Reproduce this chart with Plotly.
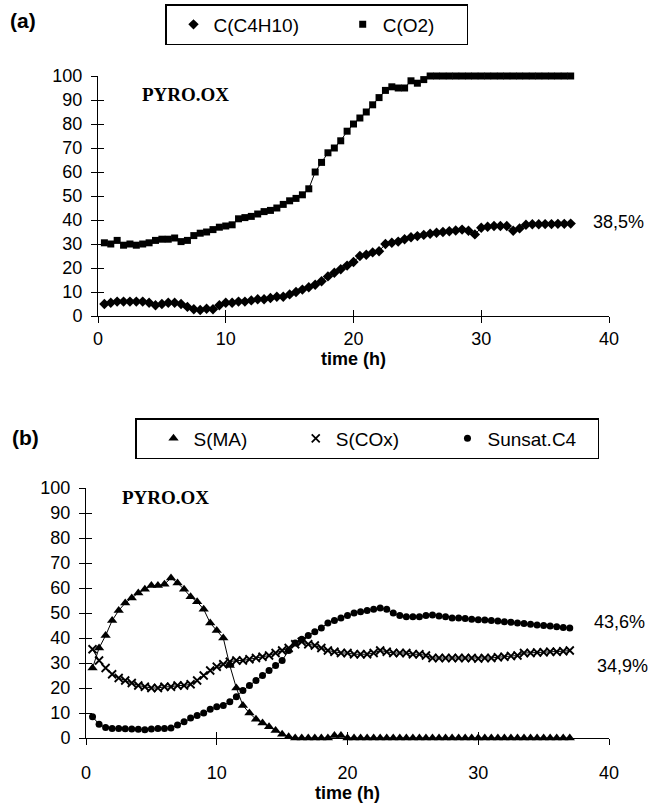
import plotly.graph_objects as go

time_h = [0.5, 1.0, 1.5, 2.0, 2.5, 3.0, 3.5, 4.0, 4.5, 5.0, 5.5, 6.0, 6.5, 7.0, 7.5, 8.0,
          8.5, 9.0, 9.5, 10.0, 10.5, 11.0, 11.5, 12.0, 12.5, 13.0, 13.5, 14.0, 14.5, 15.0,
          15.5, 16.0, 16.5, 17.0, 17.5, 18.0, 18.5, 19.0, 19.5, 20.0, 20.5, 21.0, 21.5,
          22.0, 22.5, 23.0, 23.5, 24.0, 24.5, 25.0, 25.5, 26.0, 26.5, 27.0, 27.5, 28.0,
          28.5, 29.0, 29.5, 30.0, 30.5, 31.0, 31.5, 32.0, 32.5, 33.0, 33.5, 34.0, 34.5,
          35.0, 35.5, 36.0, 36.5, 37.0]

# (a) conversions
c_c4h10 = [5, 5.5, 6, 6, 6, 6, 6, 5.5, 4.5, 5, 5.5, 5.5, 5, 3.8, 2.8, 2.5,
           3, 2.8, 4.5, 5.5, 5.5, 6, 6, 6.5, 7, 7, 7.5, 8, 8, 9,
           10, 11, 12, 13, 14.5, 16.5, 18, 19.5, 21, 22.5, 25, 25.5, 26.5,
           27, 30, 30.5, 31, 32, 32.8, 33.3, 33.8, 34.3, 34.7, 35, 35.3, 35.6,
           36, 35.5, 34, 36.8, 37.2, 37.5, 37.5, 37.5, 35.5, 36.5, 38, 38.2, 38.2,
           38.3, 38.3, 38.4, 38.4, 38.5]
c_o2 = [30.5, 30, 31.5, 29.5, 30, 29.5, 30, 30.5, 31.5, 32, 32, 32.5, 31, 31.5, 33.5, 34.5,
        35, 36, 37, 37.5, 38, 40.5, 41, 41.5, 42.5, 43.5, 44, 45, 46.5, 48,
        49, 50.5, 53, 60, 64, 68, 70, 73, 77, 80, 82.5, 85, 88,
        91, 94, 95.5, 95, 95, 98, 97, 98.5, 100, 100, 100, 100, 100,
        100, 100, 100, 100, 100, 100, 100, 100, 100, 100, 100, 100, 100,
        100, 100, 100, 100, 100]

# (b) selectivities
s_ma = [28, 36, 41, 47, 51, 54, 56, 58, 59.5, 61, 61, 61.5, 64, 62, 59.5, 56.5,
        54.5, 51.5, 46, 43, 40, 29, 20, 13, 10, 7.5, 6, 4.5, 3, 1.5,
        0.5, 0, 0, 0, 0, 0, 0, 1, 1, 0, 0, 0, 0,
        0, 0, 0, 0, 0, 0, 0, 0, 0, 0, 0, 0, 0,
        0, 0, 0, 0, 0, 0, 0, 0, 0, 0, 0, 0, 0,
        0, 0, 0, 0, 0]
s_cox = [35.5, 31, 28, 25.5, 24, 23, 22, 21, 20.5, 20, 20, 20.5, 20.5, 21, 21, 21.5,
         23, 25, 27, 28.5, 29.5, 30.5, 31, 31, 31.5, 32, 32.5, 33, 34, 35,
         36, 37.5, 38.5, 37.5, 37, 36, 35, 34.5, 34, 34, 33.5, 33.5, 33.5,
         34, 35, 34.5, 34, 34, 34, 33.5, 33.5, 33, 32, 32, 32, 32,
         32, 32, 32, 31.8, 32, 32, 32.3, 32.5, 32.8, 33, 34, 34, 34.2,
         34.3, 34.5, 34.5, 34.7, 35]
s_unsat_c4 = [8.5, 5.5, 4.2, 3.8, 3.8, 3.7, 3.6, 3.5, 3.3, 3.6, 3.8, 3.8, 4, 5.2, 6.5, 8,
              9, 10, 11.5, 12.5, 13, 14.5, 16.5, 19, 21, 23, 25, 27, 29, 31,
              35, 38, 39.5, 41, 42.5, 44, 46, 47, 48, 49, 50, 50.5, 51,
              51.5, 52, 51.5, 50, 49, 48.5, 48.5, 48.5, 49, 49.2, 48.8, 48.5, 48,
              48, 47.8, 47.5, 47.3, 47.2, 47, 46.8, 46.5, 46.3, 46, 45.8, 45.5, 45.2,
              45, 44.8, 44.5, 44.2, 44]

x_ticks = [0, 10, 20, 30, 40]
y_ticks = [0, 10, 20, 30, 40, 50, 60, 70, 80, 90, 100]

W, H = 652, 804
SANS = "Liberation Sans, Arial, sans-serif"
SERIF = "Liberation Serif, Times New Roman, serif"
NB = "\u00a0"  # trailing spacing inside the boxed legends

fig = go.Figure()

def add_series(y, name, symbol, size, xa, ya, legend, pad, lw=0):
    fig.add_trace(go.Scatter(x=time_h, y=y, mode="lines", line=dict(color="black", width=1),
                             xaxis=xa, yaxis=ya, showlegend=False, hoverinfo="skip",
                             cliponaxis=False))
    fig.add_trace(go.Scatter(x=time_h, y=y, mode="markers", name=name + NB * pad,
                             marker=dict(symbol=symbol, size=size, color="black",
                                         line=dict(color="black", width=lw)),
                             xaxis=xa, yaxis=ya, legend=legend, cliponaxis=False))

add_series(c_c4h10, "C(C4H10)", "diamond", 8, "x", "y", "legend", 6)
add_series(c_o2, "C(O2)", "square", 7, "x", "y", "legend", 5)
add_series(s_ma, "S(MA)", "triangle-up", 9, "x2", "y2", "legend2", 5)
add_series(s_cox, "S(COx)", "x-thin", 8, "x2", "y2", "legend2", 5, lw=1.8)
add_series(s_unsat_c4, "Sunsat.C4", "circle", 7, "x2", "y2", "legend2", 3)

def px_x(p):
    return p / W

def px_y(p):
    return 1 - p / H

top_x = [px_x(98), px_x(609)]
top_y = [px_y(316), px_y(76)]
bot_x = [px_x(86), px_x(609)]
bot_y = [px_y(738), px_y(488)]

tickfont = dict(family=SANS, size=18, color="black")

def xaxis(domain, anchor, label_gap, title_gap):
    return dict(domain=domain, anchor=anchor, range=[0, 40], tickvals=x_ticks,
                showline=True, linecolor="black", linewidth=1, ticks="outside",
                ticklen=6, tickcolor="black", tickfont=tickfont, showgrid=False,
                zeroline=False, ticklabelstandoff=label_gap,
                title=dict(text="<b>time (h)</b>", font=dict(family=SANS, size=18, color="black"),
                           standoff=title_gap))

def yaxis(domain, anchor):
    return dict(domain=domain, anchor=anchor, range=[0, 100], tickvals=y_ticks,
                showline=True, linecolor="black", linewidth=1, ticks="outside",
                ticklen=6, tickcolor="black", tickfont=tickfont, showgrid=False,
                zeroline=False, ticklabelstandoff=5)

# overlay axes giving the inner half of the crossing tick marks
def inner_x(over, anchor):
    return dict(overlaying=over, anchor=anchor, range=[0, 40], tickvals=x_ticks,
                ticks="inside", ticklen=6, tickcolor="black", showticklabels=False,
                showline=False, showgrid=False, zeroline=False, side="bottom")

def inner_y(over, anchor):
    return dict(overlaying=over, anchor=anchor, range=[0, 100], tickvals=y_ticks,
                ticks="inside", ticklen=6, tickcolor="black", showticklabels=False,
                showline=False, showgrid=False, zeroline=False, side="left")

legend_common = dict(orientation="h", bgcolor="white", bordercolor="black", borderwidth=1.5,
                     font=dict(family=SANS, size=19, color="black"),
                     xanchor="left", yanchor="top", itemclick=False, itemdoubleclick=False)

fig.update_layout(
    width=W, height=H, margin=dict(l=0, r=0, t=0, b=0, autoexpand=False),
    paper_bgcolor="white", plot_bgcolor="white",
    xaxis=xaxis(top_x, "y", 0, 0), yaxis=yaxis(top_y, "x"),
    xaxis2=xaxis(bot_x, "y2", 12, 4), yaxis2=yaxis(bot_y, "x2"),
    xaxis3=inner_x("x", "y"), yaxis3=inner_y("y", "x"),
    xaxis4=inner_x("x2", "y2"), yaxis4=inner_y("y2", "x2"),
    legend=dict(x=px_x(165), y=px_y(4), indentation=7, **legend_common),
    legend2=dict(x=px_x(135), y=px_y(418), indentation=17, **legend_common),
    showlegend=True,
)

# hidden traces so the overlay axes get drawn (standard secondary-axis pattern)
for xa, ya in (("x3", "y"), ("x", "y3"), ("x4", "y2"), ("x2", "y4")):
    fig.add_trace(go.Scatter(x=[None], y=[None], xaxis=xa, yaxis=ya, showlegend=False,
                             hoverinfo="skip"))

ann = []
def label(text, x, y, xref, yref, **kw):
    ann.append(dict(text=text, x=x, y=y, xref=xref, yref=yref, showarrow=False,
                    yanchor="middle", **kw))

label("<b>(a)</b>", px_x(8), px_y(20), "paper", "paper", xanchor="left",
      font=dict(family=SANS, size=21, color="black"))
label("<b>(b)</b>", px_x(10), px_y(437), "paper", "paper", xanchor="left",
      font=dict(family=SANS, size=21, color="black"))
label("<b>PYRO.OX</b>", px_x(140), px_y(95), "paper", "paper", xanchor="left",
      font=dict(family=SERIF, size=19, color="black"))
label("<b>PYRO.OX</b>", px_x(120), px_y(497), "paper", "paper", xanchor="left",
      font=dict(family=SERIF, size=19, color="black"))

pfont = dict(family=SANS, size=18, color="black")
label("100%", 38.3, 102.5, "x", "y", xanchor="left", font=pfont)
label("38,5%", 38.6, 39, "x", "y", xanchor="left", font=pfont)
label("43,6%", 38.7, 46.4, "x2", "y2", xanchor="left", font=pfont)
label("34,9%", 38.9, 29, "x2", "y2", xanchor="left", font=pfont)
label("0%", 40.9, -0.5, "x2", "y2", xanchor="left", font=pfont)

fig.update_layout(annotations=ann)

fig.write_html("out.html")
